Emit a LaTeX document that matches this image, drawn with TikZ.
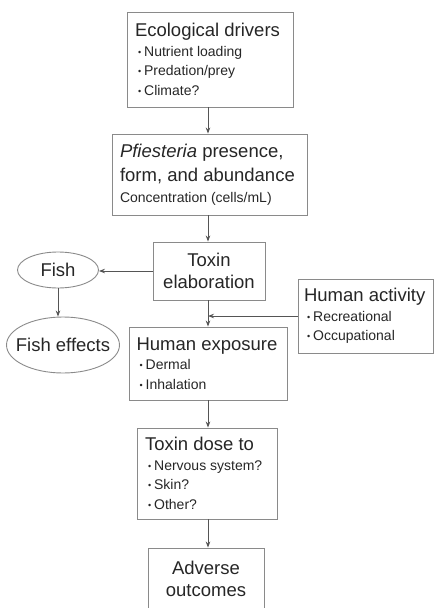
\documentclass[tikz,border=0pt]{standalone}
\usepackage{fontspec}
\setmainfont{Liberation Sans}
\usepackage{tikz}
\usetikzlibrary{arrows.meta}
\usetikzlibrary{shapes.geometric}
\definecolor{ink}{HTML}{262626}
\definecolor{rule}{HTML}{8A8A8A}
\definecolor{wirecol}{HTML}{555555}
\setlength\parindent{0pt}
\newcommand\hd{\fontsize{18.5}{22}\selectfont}
\newcommand\gap{\spaceskip=0pt \xspaceskip=0pt }
\newcommand\itm{\par\fontsize{14}{19.5}\selectfont\gap\hspace*{3pt}\raisebox{1pt}{\fontsize{9}{9}\selectfont\textbullet}\hspace{3pt}}
\tikzset{stage box/.style={draw=rule, line width=0.9pt, inner xsep=8pt, inner ysep=0pt, text=ink, align=left, font=\hd}}
\tikzset{oval/.style={draw=rule, ellipse, line width=0.9pt, inner sep=0pt, text=ink, font=\hd}}
\tikzset{every edge/.style={draw=wirecol, line width=0.8pt}}
\tikzset{>={Stealth[length=6pt,width=4.5pt]}}

\begin{document}
\begin{tikzpicture}[x=1pt,y=-1pt]
  \useasboundingbox (0,0) rectangle (434,608);
  \clip (0,0) rectangle (434,608);
  \coordinate (spine) at (208,0);

  \node[stage box, text width=150pt, minimum height=95pt] at (210,59.5) (drivers)
    {\gap Ecological drivers\itm Nutrient loading\itm Predation/prey\itm Climate?\par};
  \node[stage box, text width=179pt, minimum height=81pt] at (209.5,174.5) (pfi)
    {\gap\textit{Pfiesteria} presence,\\[2pt] form, and abundance\par
     \fontsize{14}{21}\selectfont\gap Concentration (cells/mL)\par};
  \node[stage box, align=center, text width=96pt, minimum height=58pt] at (209,271) (toxin)
    {Toxin\\elaboration};

  \node[oval, minimum width=81pt, minimum height=36pt] at (58,270) (fish) {\makebox[0pt]{Fish}};
  \node[oval, minimum width=113pt, minimum height=56pt] at (63,345) (effects) {\makebox[0pt]{Fish effects}};

  \node[stage box, inner xsep=7.5pt, text width=143pt, minimum height=73pt] at (208,363.5) (exposure)
    {\gap Human exposure\itm Dermal\itm Inhalation\par};
  \node[stage box, inner xsep=6pt, text width=123pt, minimum height=74pt] at (365.5,316) (activity)
    {\gap Human activity\itm Recreational\itm Occupational\par};
  \node[stage box, text width=124pt, minimum height=91pt] at (207,473.5) (dose)
    {\gap Toxin dose to\itm Nervous system?\itm Skin?\itm Other?\par};
  \node[stage box, align=center, text width=100pt, minimum height=61pt] at (206,578.5) (outcome)
    {Adverse\\outcomes};

  \draw (drivers.south -| spine) edge[->] (pfi.north -| spine);
  \draw (pfi.south -| spine) edge[->] (toxin.north -| spine);
  \draw (toxin.south -| spine) edge[->] (exposure.north -| spine);
  \draw (exposure.south -| spine) edge[->] (dose.north -| spine);
  \draw (dose.south -| spine) edge[->] (outcome.north -| spine);

  \draw (toxin.west) edge[->] (toxin.west -| fish.east);
  \draw (fish.south) edge[->] (effects.north -| fish.south);
  \draw (activity.west) edge[->] (activity.west -| spine);
\end{tikzpicture}
\end{document}
